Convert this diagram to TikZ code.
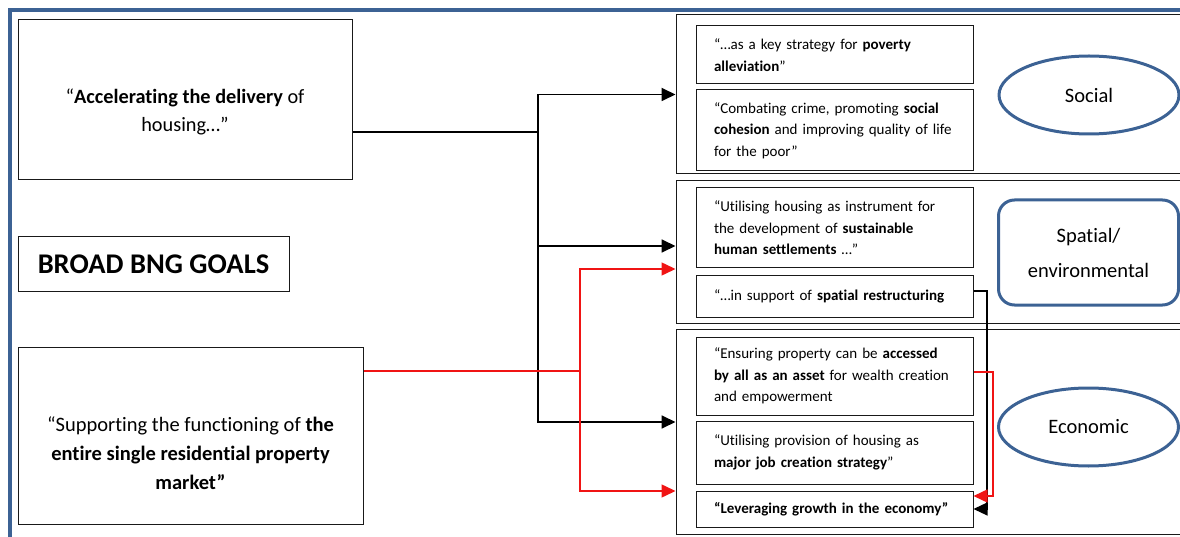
\documentclass[tikz,border=0pt]{standalone}
\usepackage{fontspec}
\setmainfont{Carlito}[Ligatures={NoCommon}]
\usetikzlibrary{arrows.meta,shapes.geometric}
\definecolor{frameblue}{RGB}{60,98,148}
\definecolor{boxline}{RGB}{25,25,25}
\definecolor{arrred}{RGB}{240,20,20}

\begin{document}
\begin{tikzpicture}[x=1pt,y=-1pt,
  goalbox/.style={draw=boxline,line width=1pt,inner sep=0pt,align=center},
  goaltext/.style={inner sep=0pt,align=center},
  group/.style={draw=boxline,line width=1pt,inner sep=0pt},
  quotebox/.style={draw=boxline,line width=1pt,inner ysep=0pt,inner xsep=18pt,
    text width=241pt,align=left,font=\fontsize{15}{21.5}\selectfont},
  theme/.style={draw=frameblue,line width=3pt,minimum width=180pt,align=center,
    font=\fontsize{20.5}{35}\selectfont},
  blk/.style={draw=black,line width=1.8pt},
  blkarr/.style={blk,-{Triangle[length=14pt,width=13pt]}},
  thinarr/.style={draw=black,line width=1.2pt,-{Triangle[length=14pt,width=13pt]}},
  redln/.style={draw=arrred,line width=1.5pt},
  redarr/.style={redln,-{Triangle[length=14pt,width=13pt]}}
]
\useasboundingbox (0,0) rectangle (1180,537);
\clip (0,0) rectangle (1180,537);

% outer frame
\draw[frameblue,line width=4pt] (10,600) -- (10,10) -- (1220,10);

% goals on the left
\node[goalbox,minimum width=334pt,minimum height=160pt] (accel) at (185,100) {};
\node[goaltext,font=\fontsize{20.3}{28}\selectfont] (accelT)
  at ([yshift=-12pt]accel.center)
  {“\textbf{Accelerating the delivery} of\\housing…”};
\node[goalbox,minimum width=271pt,minimum height=54pt,
  font=\fontsize{28.5}{32}\selectfont\bfseries] (goals) at (153.5,264)
  {BROAD BNG GOALS};
\node[goalbox,minimum width=345pt,minimum height=177pt] (support) at (190.5,435.5) {};
\node[goaltext,font=\fontsize{20.5}{29}\selectfont] (supportT)
  at ([yshift=-18pt]support.center)
  {“Supporting the functioning of \textbf{the}\\
   \textbf{entire single residential property}\\
   \textbf{market”}};

% theme groups
\node[group,minimum width=514pt,minimum height=159pt] (soc) at (933,94.5) {};
\node[group,minimum width=514pt,minimum height=142pt] (spa) at (933,252) {};
\node[group,minimum width=514pt,minimum height=205pt] (eco) at (933,431.5) {};

% quotes inside the groups
\node[quotebox,minimum height=58pt] (p1) at (834.5,55)
  {“…as a key strategy for \textbf{poverty}\\\textbf{alleviation}”};
\node[quotebox,minimum height=81pt] (p2) at (834.5,130.5)
  {“Combating crime, promoting \textbf{social}\\
   \textbf{cohesion} and improving quality of life\\for the poor”};
\node[quotebox,minimum height=80pt] (s1) at (834.5,228)
  {“Utilising housing as instrument for\\
   the development of \textbf{sustainable}\\
   \textbf{human settlements} …”};
\node[quotebox,minimum height=41pt] (s2) at (834.5,296.5)
  {“…in support of \textbf{spatial restructuring}};
\node[quotebox,minimum height=78pt] (e1) at (834.5,376)
  {“Ensuring property can be \textbf{accessed}\\
   \textbf{by all as an asset} for wealth creation\\and empowerment};
\node[quotebox,minimum height=63pt] (e2) at (834.5,452.5)
  {“Utilising provision of housing as\\
   \textbf{major job creation strategy}”};
\node[quotebox,minimum height=36pt] (e3) at (834.5,509)
  {\textbf{“Leveraging growth in the economy”}};

% theme labels
\node[theme,ellipse,minimum height=78pt] (lsoc) at (1089,95) {Social};
\node[theme,rectangle,rounded corners=16pt,minimum height=105pt] (lspa)
  at (1088.5,252.5) {Spatial/\\environmental};
\node[theme,ellipse,minimum height=78pt] (leco) at (1088.5,427) {Economic};

% black connectors from the delivery goal
\coordinate (jA) at (538,132);
\draw[blk] ([yshift=-32pt]accel.east) -- (jA);
\draw[blkarr] (jA) |- (soc.west);
\draw[blkarr] (jA) |- ([yshift=6pt]spa.west);
\draw[blkarr] (jA) |- ([yshift=9.5pt]eco.west);

% red connectors from the market goal
\coordinate (jS) at (580,371);
\draw[redln] ([yshift=64.5pt]support.east) -- (jS);
\draw[redarr] (jS) |- ([yshift=-17pt]spa.west);
\draw[redarr] (jS) |- ([yshift=-59.5pt]eco.west);

% links on the right into the growth quote
\coordinate (kb) at (987,0);
\coordinate (kr) at (993,0);
\draw[thinarr] ([yshift=5.5pt]s2.east) -| (kb |- e3.east) -- (e3.east);
\draw[redarr] ([yshift=4pt]e1.east) -| (kr |- 0,496) -- ([yshift=13pt]e3.east);
\end{tikzpicture}
\end{document}
